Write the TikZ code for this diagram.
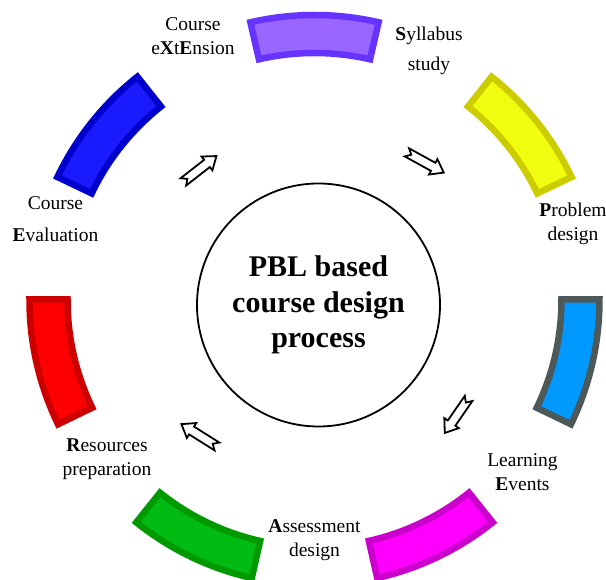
\documentclass[tikz,border=0pt]{standalone}
\usepackage{fontspec}
\setmainfont{Liberation Serif}

% --- segment colours (fill / edge) ---
\definecolor{segViolet}{HTML}{9966FF}  \definecolor{segVioletLine}{HTML}{6633FF}
\definecolor{segYellow}{HTML}{F0FF10}  \definecolor{segYellowLine}{HTML}{CCCC00}
\definecolor{segAzure}{HTML}{0099FF}   \definecolor{segAzureLine}{HTML}{4D5959}
\definecolor{segMagenta}{HTML}{FF00FF} \definecolor{segMagentaLine}{HTML}{CC00CC}
\definecolor{segGreen}{HTML}{00BB11}   \definecolor{segGreenLine}{HTML}{009900}
\definecolor{segRed}{HTML}{FF0000}     \definecolor{segRedLine}{HTML}{CC0000}
\definecolor{segBlue}{HTML}{1A1AFF}    \definecolor{segBlueLine}{HTML}{0000CC}

% hollow block arrow with notched tail: #1 = centre, #2 = direction
\newcommand{\flowarrow}[2]{%
  \draw[flow-arrow, shift={(#1)}, rotate=#2]
    (-21,4.6) -- (9,4.6) -- (9,8.8) -- (21,0) -- (9,-8.8) -- (9,-4.6) -- (-21,-4.6) -- (-16,0) -- cycle;}

\begin{document}
\begin{tikzpicture}[
      x=1pt, y=1pt,
      % --- GLOBAL STYLES ---
      segment/.style={line width=6.5pt, miter limit=10},
      flow-arrow/.style={draw=black, fill=white, line width=1.8pt},
      core/.style={circle, draw=black, line width=1.8pt, fill=white, align=center, inner sep=0pt,
                   font=\fontsize{30}{35.5}\selectfont\bfseries},
      stage-label/.style={align=center, inner sep=0pt, font=\fontsize{19.5}{23.5}\selectfont}
  ]
    \useasboundingbox (-314.5,-280) rectangle (291.5,300);
    %
    % 1. Ring of seven segments (clockwise from the top)
    \foreach \fillc/\linec [count=\k from 0] in {segViolet/segVioletLine, segYellow/segYellowLine,
        segAzure/segAzureLine, segMagenta/segMagentaLine, segGreen/segGreenLine,
        segRed/segRedLine, segBlue/segBlueLine} {
      \pgfmathsetmacro{\a}{90-\k*360/7}
      \draw[segment, draw=\linec, fill=\fillc]
        (\a-13:247) -- (\a-13:285) arc[start angle=\a-13, end angle=\a+13, radius=285]
        -- (\a+13:247) arc[start angle=\a+13, end angle=\a-13, radius=247] -- cycle;
    }
    %
    % 2. Core
    \node[core, minimum size=243pt] (core) at (4,-5) {PBL based\\course design\\process};
    %
    % 3. Stage labels
    \node[stage-label] (extension) at (-121.5,264) {Course\\e\textbf{X}t\textbf{E}nsion};
    \node[stage-label] (syllabus) at (114.5,248.9) {\textbf{S}yllabus\\[6.5pt]study};
    \node[stage-label] (problem) at (258.5,76.1) {\textbf{P}roblem\\design};
    \node[stage-label] (learning) at (208,-172.1) {Learning\\\textbf{E}vents};
    \node[stage-label] (assessment) at (0,-240.2) {\textbf{A}ssessment\\design};
    \node[stage-label] (resources) at (-207.5,-159.3) {\textbf{R}esources\\preparation};
    \node[stage-label] (evaluation) at (-259,80.6) {Course\\[8.5pt]\textbf{E}valuation};
    %
    % 4. Flow arrows
    \flowarrow{-114.6,131}{38}
    \flowarrow{110.8,137.5}{-28.8}
    \flowarrow{142.2,-115.7}{-124.6}
    \flowarrow{-115.3,-135.3}{147.9}
  \end{tikzpicture}
\end{document}
